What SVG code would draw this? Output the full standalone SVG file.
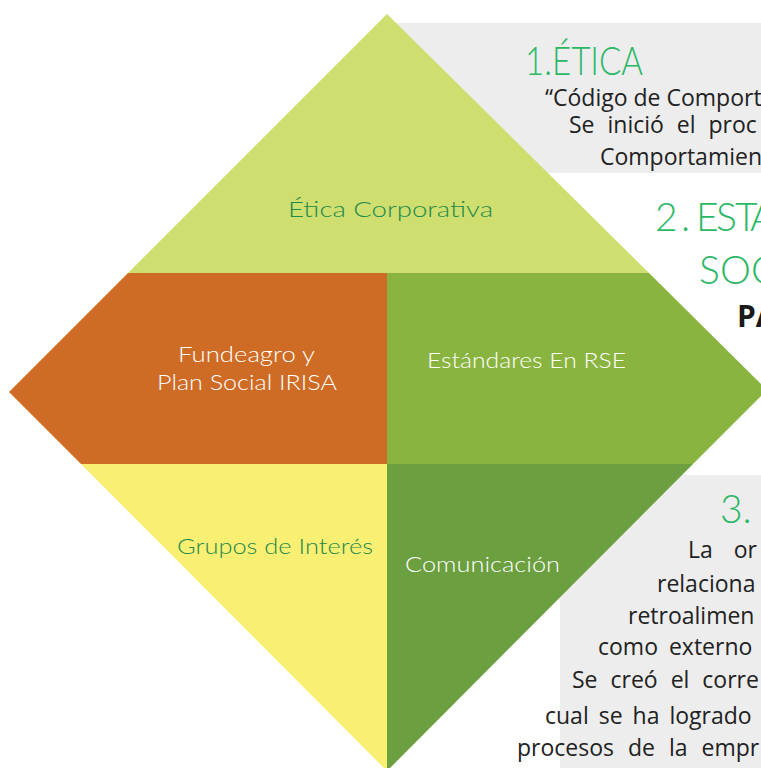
<svg xmlns="http://www.w3.org/2000/svg" width="761" height="768" viewBox="0 0 761 768">
<style>
.lbl{font-family:Lato,"Noto Sans","DejaVu Sans",sans-serif;font-weight:300;}
.ttl{font-family:Lato,"Noto Sans","DejaVu Sans",sans-serif;font-weight:300;fill:#2BB866;font-size:39px;}
.body{font-family:"Open Sans","Noto Sans","Liberation Sans",sans-serif;font-size:23px;fill:#222222;}
.box{fill:#EDEDED;}
</style>
<rect width="761" height="768" fill="#FFFFFF"/>
<g id="panels">
<rect class="box" x="390" y="23" width="371" height="150"/>
<rect class="box" x="560" y="475" width="201" height="293"/>
</g>
<g id="etica-corporativa">
<polygon points="387,14 649,273 128,273" fill="#CEDE6F"/>
<text class="lbl" x="288" y="217" font-size="22" fill="#1E8A4B" textLength="205" lengthAdjust="spacingAndGlyphs">Ética Corporativa</text>
</g>
<g id="fundeagro">
<polygon points="128,273 387,273 387,464 81,464 9,392" fill="#CE6C26"/>
<text class="lbl" x="178" y="362" font-size="21" fill="#FFFFFF" textLength="137" lengthAdjust="spacingAndGlyphs">Fundeagro y</text>
<text class="lbl" x="157" y="390" font-size="21" fill="#FFFFFF" textLength="180" lengthAdjust="spacingAndGlyphs">Plan Social IRISA</text>
</g>
<g id="estandares">
<polygon points="387,273 649,273 767,390 693,464 387,464" fill="#8AB440"/>
<text class="lbl" x="427" y="368" font-size="21" fill="#FFFFFF" textLength="199" lengthAdjust="spacingAndGlyphs">Estándares En RSE</text>
</g>
<g id="grupos">
<polygon points="81,464 387,464 387,771" fill="#F9EF73"/>
<text class="lbl" x="177" y="554" font-size="21" fill="#1E8A4B" textLength="196" lengthAdjust="spacingAndGlyphs">Grupos de Interés</text>
</g>
<g id="comunicacion">
<polygon points="387,464 693,464 387,771" fill="#6B9F3F"/>
<text class="lbl" x="405" y="572" font-size="21" fill="#FFFFFF" textLength="155" lengthAdjust="spacingAndGlyphs">Comunicación</text>
</g>
<g id="texto-etica">
<text class="ttl" x="525" y="75" font-size="38" textLength="118" lengthAdjust="spacingAndGlyphs">1.ÉTICA</text>
<text class="body" x="545" y="106">“Código de Comport</text>
<text class="body" x="569" y="133" word-spacing="7">Se inició el proc</text>
<text class="body" x="600" y="165">Comportamien</text>
</g>
<g id="texto-estandares">
<text class="ttl" y="231" x="655 681 688 696 716 735 750">2. ESTA</text>
<text class="ttl" y="284" x="699 720 751">SOC</text>
<text y="327" x="737" font-family="Open Sans, Noto Sans, Liberation Sans, sans-serif" font-weight="700" font-size="30" fill="#1A1A1A">PA</text>
</g>
<g id="texto-comunicacion">
<text class="ttl" x="720" y="523">3.</text>
<text class="body" x="688" y="558" word-spacing="15">La or</text>
<text class="body" x="657" y="592">relaciona</text>
<text class="body" x="628" y="624">retroalimen</text>
<text class="body" x="598" y="655" word-spacing="5">como externo</text>
<text class="body" x="572" y="688" word-spacing="7">Se creó el corre</text>
<text class="body" x="545" y="724" word-spacing="4">cual se ha logrado</text>
<text class="body" x="517" y="756" word-spacing="8">procesos de la empr</text>
</g>
</svg>
